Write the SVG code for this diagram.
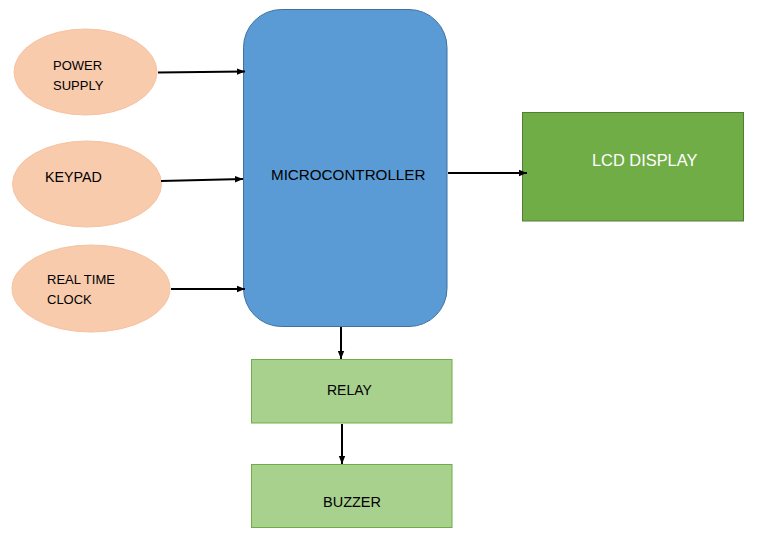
<svg xmlns="http://www.w3.org/2000/svg" width="764" height="542" viewBox="0 0 764 542">
<defs>
<marker id="arr" markerWidth="8" markerHeight="8" refX="8" refY="4" orient="auto" markerUnits="userSpaceOnUse">
<path d="M0,0.8 L8,4 L0,7.2 Z" fill="#000"/>
</marker>
<style>
.ell{fill:#F8CBAD;stroke:#F6C3A1;stroke-width:1}
.t{font-family:"Liberation Sans",Arial,sans-serif;fill:#000}
.w{font-family:"Liberation Sans",Arial,sans-serif;fill:#fff}
.box{fill:#A9D18E;stroke:#70AD47;stroke-width:1}
.con{stroke:#000;stroke-width:2;fill:none;marker-end:url(#arr)}
</style>
</defs>
<rect width="764" height="542" fill="#fff"/>
<g id="power">
<ellipse class="ell" cx="85.5" cy="72" rx="71.5" ry="43"/>
<text class="t" x="53" y="70" font-size="13">POWER</text>
<text class="t" x="53" y="90" font-size="13">SUPPLY</text>
</g>
<g id="keypad">
<ellipse class="ell" cx="87" cy="184" rx="74.5" ry="43"/>
<text class="t" x="45" y="182" font-size="14.3">KEYPAD</text>
</g>
<g id="rtc">
<ellipse class="ell" cx="91" cy="288.5" rx="79" ry="43.5"/>
<text class="t" x="47" y="284" font-size="13">REAL TIME</text>
<text class="t" x="47" y="304" font-size="13">CLOCK</text>
</g>
<g id="mcu">
<rect x="243.5" y="9.5" width="203.5" height="317" rx="38" ry="38" fill="#5B9BD5" stroke="#41719C" stroke-width="1"/>
<text class="t" x="271" y="180" font-size="15.2">MICROCONTROLLER</text>
</g>
<g id="lcd">
<rect x="522.5" y="112.5" width="221" height="108.5" fill="#70AD47" stroke="#507E32" stroke-width="1"/>
<text class="w" x="592" y="165.5" font-size="16.4">LCD DISPLAY</text>
</g>
<g id="relay">
<rect class="box" x="251.5" y="359.5" width="200.5" height="63.5"/>
<text class="t" x="327" y="395" font-size="14">RELAY</text>
</g>
<g id="buzzer">
<rect class="box" x="251.5" y="464.5" width="200.5" height="63"/>
<text class="t" x="323" y="506.5" font-size="14.5">BUZZER</text>
</g>
<g id="connectors">
<line class="con" x1="158" y1="72.5" x2="245" y2="71.5"/>
<line class="con" x1="161" y1="181" x2="243" y2="179"/>
<line class="con" x1="171" y1="289" x2="245" y2="289"/>
<line class="con" x1="448" y1="173" x2="527" y2="173"/>
<line class="con" x1="341" y1="327" x2="341" y2="359"/>
<line class="con" x1="342" y1="424" x2="342" y2="464"/>
</g>
</svg>
